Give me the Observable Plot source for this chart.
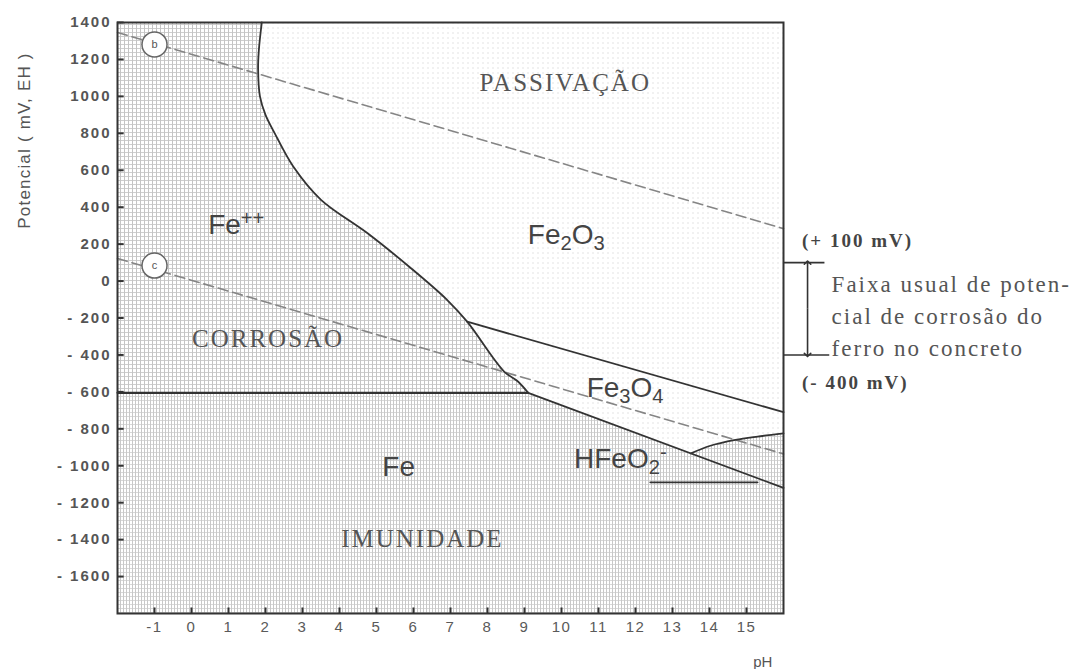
<!DOCTYPE html>
<html><head><meta charset="utf-8">
<script src="https://cdn.jsdelivr.net/npm/d3@7"></script>
<script src="https://cdn.jsdelivr.net/npm/@observablehq/plot@0.6"></script>
<style>body{margin:0;background:#fff}#chart svg{display:block}</style>
</head><body><div id="chart"></div>
<script>
// ---- data (pH, potential in mV) ----
const xTicks = [-1,0,1,2,3,4,5,6,7,8,9,10,11,12,13,14,15];
const yTicks = [1400,1200,1000,800,600,400,200,0,-200,-400,-600,-800,-1000,-1200,-1400,-1600];
// Fe++ / Fe2O3 - Fe3O4 boundary
const feIonBoundary = [[1.9,1400],[1.82,1250],[1.8,1150],[1.85,1000],[2.0,900],[2.25,800],[2.75,620],[3.5,440],[4.75,260],[5.9,75],[6.9,-100],[7.45,-220],[8.45,-490],[8.8,-540],[9.1,-605]];
const immunityLine = [[-2,-605],[9.1,-605]];
const fe2o3Fe3o4Line = [[7.45,-220],[16,-710]];
const fe3o4FeLine = [[9.1,-605],[16,-1120]];
const hfeo2Curve = [[13.5,-933],[14.0,-893],[14.7,-860],[15.3,-842],[16,-825]];
const hfeo2FeLine = [[12.4,-1090],[15.3,-1090]];
const lineA = [[-2,122],[16,-936]];   // H2 evolution (c)
const lineB = [[-2,1346],[16,284]];   // O2 evolution (b)
const markers = [{ph:-1, mv:1281, t:"b"}, {ph:-1, mv:84, t:"c"}];
const formulaLabels = [
  {t:"Fe++", ph:1.21, mv:301},
  {t:"Fe2O3", ph:10.13, mv:247},
  {t:"Fe3O4", ph:11.72, mv:-581},
  {t:"HFeO2-", ph:11.59, mv:-961},
  {t:"Fe", ph:5.6, mv:-1009}
];
const serifLabels = [
  {t:"PASSIVAÇÃO", ph:10.1, mv:1075},
  {t:"CORROSÃO", ph:2.07, mv:-311},
  {t:"IMUNIDADE", ph:6.24, mv:-1394}
];
const rangeTop = 100, rangeBottom = -400;
const noteText = "Faixa usual de poten-\ncial de corrosão do\nferro no concreto";

const immunityTop = [...immunityLine, ...hfeo2Curve];
const X = d => d[0], Y = d => d[1];
const solid = {stroke:"#333", strokeWidth:1.8};
const dashed = {stroke:"#858585", strokeWidth:1.6, strokeDasharray:"10,5"};
const serif = "'Liberation Serif', 'Times New Roman', serif";

const plot = Plot.plot({
  width:1074, height:669,
  marginTop:22, marginBottom:56, marginLeft:117, marginRight:291,
  x:{domain:[-2,16]}, y:{domain:[-1800,1400]},
  style:{background:"#fff", fontFamily:"'Liberation Sans', Arial, sans-serif"},
  marks:[
    Plot.frame({fill:"url(#dots)", stroke:"none"}),
    Plot.areaX(feIonBoundary, {y:Y, x1:-2, x2:X, fill:"url(#grid)"}),
    Plot.areaY(immunityTop, {x:X, y1:-1800, y2:Y, fill:"url(#grid2)"}),
    Plot.line(lineB, {x:X, y:Y, ...dashed}),
    Plot.line(lineA, {x:X, y:Y, ...dashed}),
    Plot.line(feIonBoundary, {x:X, y:Y, ...solid, curve:"catmull-rom"}),
    Plot.line(immunityLine, {x:X, y:Y, stroke:"#333", strokeWidth:2.2}),
    Plot.line(fe2o3Fe3o4Line, {x:X, y:Y, ...solid}),
    Plot.line(fe3o4FeLine, {x:X, y:Y, ...solid}),
    Plot.line(hfeo2Curve, {x:X, y:Y, ...solid, curve:"catmull-rom"}),
    Plot.line(hfeo2FeLine, {x:X, y:Y, ...solid}),
    Plot.dot(markers, {x:"ph", y:"mv", r:12.5, fill:"#fff", stroke:"#666", strokeWidth:1.5}),
    Plot.text(markers, {x:"ph", y:"mv", text:"t", fontSize:11, fill:"#555"}),
    Plot.text(formulaLabels, {x:"ph", y:"mv", text:"t", fontSize:28, fill:"#444", ariaDescription:"formula"}),
    Plot.text(serifLabels, {x:"ph", y:"mv", text:"t", fontSize:25, fill:"#555", fontFamily:serif, ariaDescription:"serif-labels"}),
    Plot.ruleY(yTicks, {x1:-2, x2:-1.82, stroke:"#333", strokeWidth:2}),
    Plot.ruleX(xTicks, {y1:-1800, y2:-1770, stroke:"#333", strokeWidth:2}),
    Plot.axisY(yTicks, {tickSize:0, tickPadding:6, label:null, fontSize:15, fontWeight:"bold", fill:"#555",
      tickFormat: d => d < 0 ? "- " + (-d) : String(d), ariaDescription:"y-ticks"}),
    Plot.axisX(xTicks, {tickSize:0, tickPadding:8, label:null, fontSize:15, fill:"#5a5a5a",
      tickFormat: d => String(d), ariaDescription:"x-ticks"}),
    Plot.frame({stroke:"#333", strokeWidth:2}),
    Plot.text(["Potencial ( mV, EH )"], {x:-2, y:761, dx:-93, rotate:-90, fontSize:17, fill:"#555", ariaDescription:"y-label"}),
    Plot.text(["pH"], {x:15.44, y:-2065, fontSize:15, fill:"#555"}),
    // right-hand annotation
    Plot.ruleY([rangeTop], {x1:16, x2:17.12, stroke:"#333", strokeWidth:1.6}),
    Plot.ruleY([rangeBottom], {x1:16, x2:17.25, stroke:"#333", strokeWidth:1.6}),
    Plot.link([rangeTop, rangeBottom], {x1:16.65, x2:16.65, y1:(rangeTop+rangeBottom)/2, y2:d=>d, stroke:"#333", strokeWidth:1.6, markerEnd:"arrow"}),
    Plot.text(["(+ 100 mV)"], {x:16.5, y:220, textAnchor:"start", fontSize:19, fontWeight:"bold", fill:"#444", fontFamily:serif, ariaDescription:"note-ab"}),
    Plot.text(["(- 400 mV)"], {x:16.5, y:-554, textAnchor:"start", fontSize:19, fontWeight:"bold", fill:"#444", fontFamily:serif, ariaDescription:"note-ab"}),
    Plot.text([noteText], {x:17.3, y:-178, textAnchor:"start", lineHeight:1.38, fontSize:23, fill:"#555", fontFamily:serif, ariaDescription:"note-c"})
  ]
});

const svg = d3.select(plot);
const defs = svg.insert("defs", ":first-child");
function pattern(id, w, h, paths) {
  const p = defs.append("pattern").attr("id", id).attr("width", w).attr("height", h).attr("patternUnits", "userSpaceOnUse");
  p.append("rect").attr("width", w).attr("height", h).attr("fill", "#fff");
  for (const [d, c] of paths) p.append("path").attr("d", d).attr("stroke", c).attr("stroke-width", 1).attr("fill", "none");
}
pattern("grid", 4, 4, [["M0 0.5H4", "#cecece"], ["M0.5 0V4", "#c4c4c4"]]);
pattern("grid2", 3, 4, [["M0 0.5H3", "#d8d8d8"], ["M0.5 0V4", "#c8c8c8"]]);
const dp = defs.append("pattern").attr("id", "dots").attr("width", 5).attr("height", 5).attr("patternUnits", "userSpaceOnUse");
dp.append("rect").attr("width", 5).attr("height", 5).attr("fill", "#fff");
dp.append("rect").attr("x", 2).attr("y", 2).attr("width", 1).attr("height", 1).attr("fill", "#c6c6c6");

const G = d => svg.selectAll(`g[aria-description="${d}"] text`);
// chemical formulas: subscripts and superscripts
G("formula").each(function() {
  const s = this.textContent;
  const el = d3.select(this).text(null);
  for (const tok of s.match(/[A-Za-z]+|\d|[+\-]+/g)) {
    const ts = el.append("tspan").text(tok);
    if (/\d/.test(tok)) ts.attr("font-size", "72%").attr("baseline-shift", "-28%");
    else if (/[+\-]/.test(tok)) ts.attr("font-size", "72%").attr("baseline-shift", "45%");
  }
});
G("serif-labels").style("letter-spacing", "2px");
G("note-c").style("letter-spacing", "2px");
G("note-ab").style("letter-spacing", "2px");
G("y-ticks").style("letter-spacing", "2px");
G("x-ticks").style("letter-spacing", "1.5px");
G("y-label").style("letter-spacing", "1.2px");

document.getElementById("chart").appendChild(plot);
</script>
</body></html>
